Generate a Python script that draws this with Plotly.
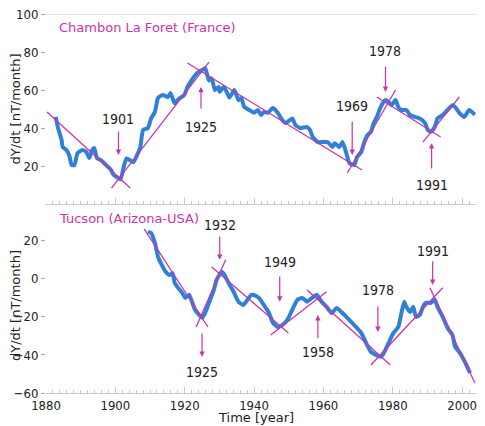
import plotly.graph_objects as go
from plotly.subplots import make_subplots

# Chambon La Foret (France), secular variation of Y component
chambon_year = [1882.8, 1883.4, 1884.5, 1884.8, 1885.9, 1886.8, 1887.4, 1888.2, 1889.1, 1890.5,
                1891.6, 1892.5, 1893.3, 1893.9, 1894.7, 1895.9, 1897.3, 1898.7, 1899.5, 1900.4,
                1901.5, 1902.4, 1903.2, 1904.3, 1905.2, 1906.0, 1907.2, 1908.0, 1909.4, 1910.3,
                1911.4, 1912.3, 1913.7, 1915.1, 1915.9, 1917.1, 1917.9, 1918.8, 1919.9, 1920.8,
                1921.6, 1922.7, 1923.6, 1925.0, 1925.9, 1927.0, 1927.8, 1928.7, 1929.8, 1930.1,
                1931.2, 1932.1, 1932.9, 1934.3, 1935.5, 1936.3, 1937.2, 1938.6, 1940.0, 1941.1,
                1942.0, 1942.8, 1944.0, 1945.4, 1946.8, 1948.2, 1949.1, 1951.0, 1951.9, 1953.3,
                1955.3, 1956.1, 1957.0, 1958.4, 1959.8, 1961.2, 1962.6, 1963.2, 1964.6, 1965.5,
                1966.6, 1967.5, 1968.9, 1969.7, 1970.9, 1971.7, 1972.6, 1973.7, 1974.5, 1975.4,
                1976.5, 1977.9, 1978.8, 1979.6, 1980.8, 1981.6, 1982.5, 1983.9, 1985.0, 1986.4,
                1987.8, 1989.3, 1990.1, 1991.0, 1992.1, 1992.9, 1994.4, 1995.8, 1997.2, 1998.0,
                1999.2, 2000.6, 2002.0, 2002.8, 2003.7]
chambon_dydt = [45.8, 40.5, 33.7, 30, 28.4, 25, 20.5, 20.5, 26.8, 28.4,
                27.4, 24.2, 28.4, 29.5, 24.2, 23, 20.5, 18, 15.3, 14.2,
                13, 19.5, 24, 23, 22, 24.7, 30, 39, 40, 45,
                48.4, 55.8, 57.4, 56.3, 58.4, 53, 54.7, 56, 57.4, 61.6,
                64, 67, 69, 70.5, 71.5, 65, 66, 60, 61.6, 59,
                61.6, 59, 56, 60, 54.7, 55.8, 51, 49.5, 48, 49.5,
                46.8, 48.4, 48, 50.5, 48, 44, 42.6, 45, 41.6, 40,
                40.5, 39, 35, 32.6, 32.6, 32.6, 30, 32, 30, 32.6,
                26.8, 21.5, 20.5, 24.7, 27.4, 32, 36, 38, 42.6, 45.8,
                51, 54.7, 53.7, 52, 54.7, 51, 49.5, 49.5, 46.8, 45.8,
                45, 42.6, 39, 38, 40.5, 45, 46.8, 49.5, 52, 51,
                48, 45.8, 49.5, 48.4, 47]

# Tucson (Arizona-USA)
tucson_year = [1909.4, 1910.3, 1911.4, 1912.3, 1913.1, 1914.5, 1915.7, 1916.5, 1917.1, 1917.9,
               1919.3, 1920.2, 1921.3, 1922.2, 1923.0, 1924.2, 1925.0, 1925.9, 1927.0, 1928.4,
               1929.2, 1930.7, 1931.5, 1932.6, 1934.1, 1935.5, 1936.9, 1937.7, 1939.2, 1940.0,
               1941.4, 1942.8, 1944.3, 1945.4, 1946.8, 1948.2, 1949.6, 1951.0, 1952.5, 1953.9,
               1955.3, 1956.7, 1958.1, 1959.5, 1960.9, 1962.4, 1963.8, 1965.2, 1966.6, 1968.0,
               1969.4, 1970.9, 1972.3, 1973.7, 1975.1, 1976.5, 1977.4, 1978.8, 1980.2, 1981.6,
               1982.5, 1983.3, 1983.9, 1985.0, 1985.9, 1986.7, 1987.8, 1988.7, 1989.5, 1991.0,
               1992.1, 1992.9, 1994.4, 1995.8, 1997.2, 1998.0, 1999.4, 2000.9, 2002.3]
tucson_dydt = [24.7, 24.2, 19, 11.6, 8.4, 3.7, 2, 3, -2, -4.2,
               -7.4, -10, -8.4, -12.6, -16.3, -19, -20.5, -17.9, -12.6, -5.8,
               -0.5, 3.7, 2, -2, -6.8, -12, -13.7, -12, -8.4, -8.5,
               -10, -13.7, -17.9, -23, -25.3, -24.2, -21.6, -16.3, -11, -10,
               -12, -10, -8.4, -12, -14.7, -17.9, -15.3, -17.4, -20, -22.6,
               -25.3, -28.4, -33.7, -38.4, -40, -41, -39, -33.7, -28.4, -25.3,
               -17.9, -12, -14.7, -17.4, -14.7, -20, -19, -14.7, -12.6, -12.6,
               -11, -14.7, -20, -25.8, -29.5, -35.8, -39, -44, -49.5]

# straight-line fits between jerks: (year start, value start, year end, value end)
chambon_fits = [(1880.3, 48.4, 1904.3, 8.4),
                (1898.9, 8.4, 1927.0, 74.7),
                (1920.8, 74.2, 1971.1, 17.9),
                (1966.9, 16.3, 1980.8, 60.0),
                (1975.4, 56.3, 1993.8, 35.3),
                (1988.7, 32.6, 1999.2, 56.3)]
tucson_fits = [(1908.3, 26.3, 1926.7, -25.3),
               (1923.3, -25.3, 1931.8, 10.0),
               (1927.8, 6.3, 1949.9, -28.5),
               (1944.8, -29.5, 1960.9, -6.8),
               (1955.3, -5.8, 1979.3, -45.3),
               (1973.7, -45.3, 1994.4, -4.7),
               (1990.7, -4.7, 2003.7, -54.7)]

# jerk labels: (text, year, label value, arrow tail value, arrow tip value)
chambon_jerks = [("1901", 1900.9, 44.7, 38.9, 25.8),
                 ("1925", 1924.7, 40.5, 49.5, 61.6),
                 ("1969", 1968.3, 51.6, 44.2, 25.8),
                 ("1978", 1977.9, 80.5, 73.0, 59.0),
                 ("1991", 1991.2, 10.0, 17.9, 32.0)]
tucson_jerks = [("1925", 1925.0, -49.0, -27.9, -41.0),
                ("1932", 1930.1, 28.4, 23.0, 10.0),
                ("1949", 1947.4, 9.0, 2.0, -12.0),
                ("1958", 1958.4, -38.4, -32.0, -19.0),
                ("1978", 1975.7, -5.8, -13.7, -27.9),
                ("1991", 1991.5, 14.7, 10.0, -3.2)]

blue = "#2f80d8"
pink = "#cc33aa"
ink = "#222222"
grey = "#c8c8c8"
font = "DejaVu Sans"
num_font = "DejaVu Sans Condensed, DejaVu Sans"

# the page body has an 8px margin, so the figure sits 8px in from the corner
W, H = 469, 418
ML, MR, MT, MB = 38, 1, 6, 33
pw, ph = W - ML - MR, H - MT - MB

fig = make_subplots(rows=2, cols=1, shared_xaxes=True)


def add_panel(row, years, values, fits, jerks):
    fig.add_trace(go.Scatter(x=years, y=values, mode="lines",
                             line=dict(color=blue, width=4, shape="spline", smoothing=0.5),
                             showlegend=False), row=row, col=1)
    fx, fy = [], []
    for x0, y0, x1, y1 in fits:
        fx += [x0, x1, None]
        fy += [y0, y1, None]
    fig.add_trace(go.Scatter(x=fx, y=fy, mode="lines", line=dict(color=pink, width=1.3),
                             showlegend=False), row=row, col=1)
    xr = "x" if row == 1 else "x2"
    yr = "y" if row == 1 else "y2"
    for text, year, lab, tail, tip in jerks:
        # arrow
        fig.add_annotation(x=year, y=tip, ax=year, ay=tail, xref=xr, yref=yr, axref=xr, ayref=yr,
                           text="", showarrow=True, arrowhead=2, arrowsize=0.9, arrowwidth=1.2,
                           arrowcolor=pink, standoff=0, startstandoff=0)
        # year label
        fig.add_annotation(x=year, y=lab, xref=xr, yref=yr, text=text, showarrow=False,
                           font=dict(size=14, color=ink, family=num_font))


add_panel(1, chambon_year, chambon_dydt, chambon_fits, chambon_jerks)
add_panel(2, tucson_year, tucson_dydt, tucson_fits, tucson_jerks)


def px(x, y):
    # screen pixel position to paper coordinates
    return (x - 8 - ML) / pw, (H - MB - (y - 8)) / ph


# Panel titles and x axis title
for text, x, y, anchor, color in [("Chambon La Foret (France)", 57, 28, "left", pink),
                                  ("Tucson (Arizona-USA)", 57, 218, "left", pink),
                                  ("Time [year]", 256, 417, "center", ink)]:
    xp, yp = px(x, y)
    fig.add_annotation(x=xp, y=yp, xref="paper", yref="paper", text=text, showarrow=False,
                       xanchor=anchor, yanchor="middle", font=dict(size=13, color=color))

axis_style = dict(showgrid=False, zeroline=False, showline=True, linecolor=grey, linewidth=1,
                  automargin=False, range=[1880, 2004], ticklabeloverflow="allow",
                  tickvals=[1880, 1900, 1920, 1940, 1960, 1980, 2000],
                  ticks="inside", ticklen=6, tickcolor=grey,
                  minor=dict(dtick=2, ticks="inside", ticklen=3, tickcolor=grey),
                  tickfont=dict(size=13, color=ink, family=num_font))
fig.update_xaxes(**axis_style)
fig.update_xaxes(showticklabels=False, row=1, col=1)

yaxis_style = dict(showgrid=False, zeroline=False, showline=False, automargin=False,
                   ticks="outside", ticklen=4, tickcolor="#aaaaaa", ticklabeloverflow="allow",
                   tickfont=dict(size=13, color=ink, family=num_font),
                   title=dict(text="dY/dt [nT/month]", standoff=2, font=dict(size=13, color=ink)))
fig.update_yaxes(**yaxis_style)

# vertical placement: 1.9 px per nT/month in both panels
y1_bottom, y2_top = 204, 218
fig.update_yaxes(range=[0, 100], tickvals=[20, 40, 60, 80, 100],
                 domain=[px(0, y1_bottom)[1], 1], row=1, col=1)
fig.update_yaxes(range=[-60, 32], tickvals=[-60, -40, -20, 0, 20],
                 domain=[0, px(0, y2_top)[1]], row=2, col=1)

# light border at the top of the upper panel
fig.add_shape(type="line", xref="x domain", yref="y", x0=0, x1=1, y0=100, y1=100,
              line=dict(color=grey, width=1))

fig.update_layout(width=W, height=H, margin=dict(l=ML, r=MR, t=MT, b=MB),
                  paper_bgcolor="white", plot_bgcolor="white",
                  font=dict(family=font, color=ink))

fig.write_html("out.html")
